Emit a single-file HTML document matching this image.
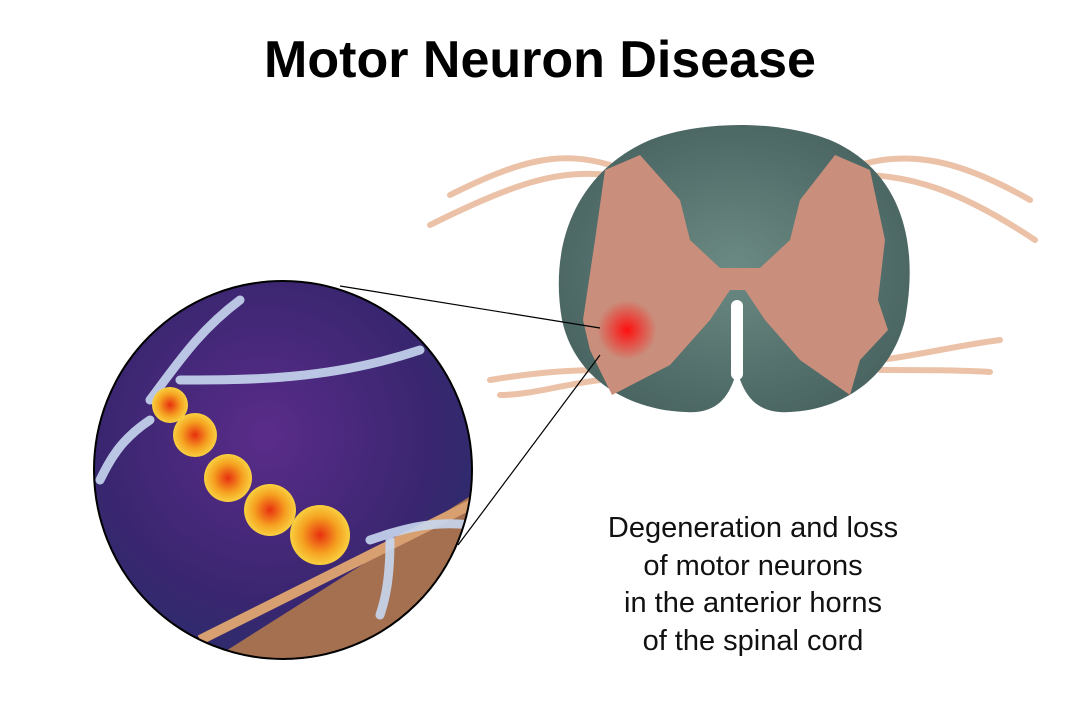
<!DOCTYPE html>
<html><head><meta charset="utf-8"><style>
html,body{margin:0;padding:0;background:#fff;width:1080px;height:720px;overflow:hidden}
.t{position:absolute;left:0;width:1080px;text-align:center;top:30px;font:bold 52px "Liberation Sans",sans-serif;color:#000}
.d{position:absolute;left:553px;width:400px;text-align:center;top:510px;font:29px/37.5px "Liberation Sans",sans-serif;color:#111}
svg{position:absolute;left:0;top:0}
</style></head><body>
<svg width="1080" height="720" viewBox="0 0 1080 720">
<defs>
<radialGradient id="bg" cx="0.45" cy="0.4" r="0.7">
<stop offset="0" stop-color="#5a2c8a"/><stop offset="0.6" stop-color="#3a2670"/><stop offset="1" stop-color="#25306a"/></radialGradient>
<radialGradient id="cord" cx="0.5" cy="0.5" r="0.6">
<stop offset="0" stop-color="#6c8a84"/><stop offset="1" stop-color="#46615e"/></radialGradient>
<radialGradient id="red" cx="0.5" cy="0.5" r="0.5">
<stop offset="0" stop-color="#ff1010"/><stop offset="1" stop-color="#ff1010" stop-opacity="0"/></radialGradient>
<radialGradient id="ob" cx="0.5" cy="0.5" r="0.5">
<stop offset="0" stop-color="#e83010"/><stop offset="0.6" stop-color="#f5a020"/><stop offset="1" stop-color="#f8d040"/></radialGradient>
<clipPath id="cc"><circle cx="283" cy="470" r="189"/></clipPath>
</defs>
<g stroke="#e8b898" stroke-width="6" fill="none" opacity="0.85" stroke-linecap="round">
<path d="M610 165 C560 150 520 160 450 195"/><path d="M610 175 C560 170 520 180 430 225"/>
<path d="M860 165 C910 150 960 160 1030 200"/><path d="M860 175 C910 175 960 190 1035 240"/>
<path d="M600 370 C560 370 520 375 490 380"/><path d="M600 380 C560 385 530 395 500 395"/>
<path d="M880 360 C920 355 960 345 1000 340"/><path d="M880 370 C920 370 960 370 990 372"/>
</g>
<path d="M650 140 C700 120 780 120 830 140 C900 170 920 240 905 320 C890 380 840 410 790 412 C760 414 745 400 737 370 C729 400 715 414 685 412 C630 410 575 380 562 320 C548 240 580 170 650 140Z" fill="url(#cord)"/>
<path d="M605 170 L640 155 L680 200 L690 240 L720 268 L760 268 L790 240 L800 200 L835 155 L870 170 L885 240 L878 300 L888 330 L860 360 L850 395 L800 360 L765 320 L745 290 L730 290 L710 320 L670 365 L612 395 L590 350 L583 320 L595 240 Z" fill="#c98f7c"/>
<circle cx="627" cy="330" r="30" fill="url(#red)"/>
<rect x="731" y="300" width="12" height="80" rx="6" fill="#fff"/>
<line x1="340" y1="286" x2="600" y2="328" stroke="#000" stroke-width="1.2"/>
<line x1="458" y1="545" x2="600" y2="355" stroke="#000" stroke-width="1.2"/>
<g clip-path="url(#cc)">
<rect x="90" y="280" width="390" height="390" fill="url(#bg)"/>
<path d="M180 680 L480 490 L480 680Z" fill="#a57050"/>
<path d="M200 640 L480 500" stroke="#d8a070" stroke-width="10"/>
<g stroke="#c8d8f0" stroke-width="9" fill="none" stroke-linecap="round" opacity="0.9">
<path d="M150 400 C180 360 200 330 240 300"/><path d="M180 380 C250 380 330 380 420 350"/>
<path d="M150 420 C120 440 110 460 100 480"/><path d="M370 540 C400 530 430 520 470 525"/>
<path d="M390 540 C390 580 385 600 380 615"/>
</g>
<circle cx="170" cy="405" r="18" fill="url(#ob)"/>
<circle cx="195" cy="435" r="22" fill="url(#ob)"/>
<circle cx="228" cy="478" r="24" fill="url(#ob)"/>
<circle cx="270" cy="510" r="26" fill="url(#ob)"/>
<circle cx="320" cy="535" r="30" fill="url(#ob)"/>
</g>
<circle cx="283" cy="470" r="189" fill="none" stroke="#000" stroke-width="2"/>
</svg>
<div class="t">Motor Neuron Disease</div>
<div class="d">Degeneration and loss<br>of motor neurons<br>in the anterior horns<br>of the spinal cord</div>
</body></html>
